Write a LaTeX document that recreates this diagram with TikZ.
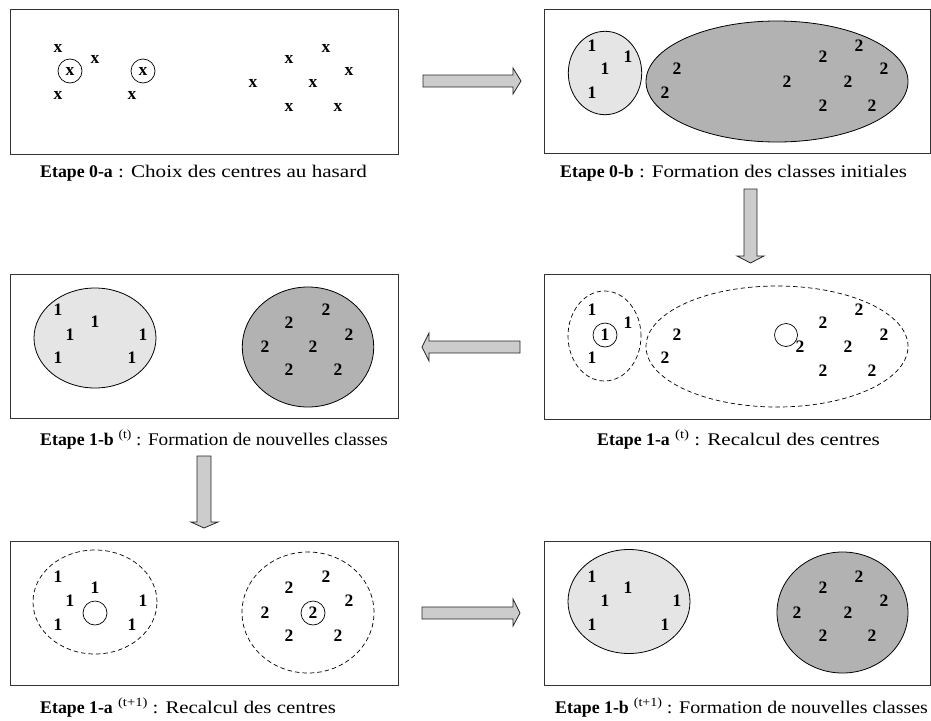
\documentclass[tikz,border=0pt]{standalone}
\usepackage{fontspec}
\setmainfont{Liberation Serif}
\newcommand\mysup[1]{\raisebox{6.5pt}{\fontsize{12.5}{13}\selectfont #1}}
% caption: bold part, width of the rest, rest
\newcommand\capline[3]{{\bfseries #1}\resizebox{#2}{\height}{\ #3}}
\begin{document}
\begin{tikzpicture}[x=1pt,y=-1pt,
  panel/.style={draw=black!80, line width=0.9pt, fill=white, inner sep=0pt},
  mk/.style={font=\fontsize{17.5}{17.5}\selectfont\bfseries, inner sep=0pt},
  captxt/.style={font=\fontsize{17.8}{19}\selectfont, anchor=base west, inner sep=0pt},
  ring/.style={draw, line width=0.7pt},
  light/.style={draw, line width=0.8pt, fill=gray!20},
  dark/.style={draw, line width=0.8pt, fill=gray!60},
  dashell/.style={draw, line width=0.7pt, dash pattern=on 4.5pt off 3pt},
  blockarrow/.style={draw=black!85, line width=0.8pt, fill=gray!40, line join=miter}
]
\useasboundingbox (0,0) rectangle (931,720);

% panels
\node[panel, minimum width=388pt, minimum height=145pt] (P1) at (204,81.5) {};
\node[panel, minimum width=386pt, minimum height=144pt] (P2) at (737,81) {};
\node[panel, minimum width=388pt, minimum height=144pt] (P3) at (204,346) {};
\node[panel, minimum width=386pt, minimum height=145pt] (P4) at (737,346.5) {};
\node[panel, minimum width=388pt, minimum height=144pt] (P5) at (204,613) {};
\node[panel, minimum width=386pt, minimum height=144pt] (P6) at (737,613) {};

% ellipses
\draw[light] (605,73) ellipse [x radius=36.7pt, y radius=41.7pt];
\draw[dark] (777,81.5) ellipse [x radius=131pt, y radius=60.5pt];
\draw[light] (95,338) ellipse [x radius=61pt, y radius=50pt];
\draw[dark] (308,347) ellipse [x radius=65.7pt, y radius=60pt];
\draw[dashell] (604.5,336) ellipse [x radius=36.5pt, y radius=45pt];
\draw[dashell] (777,346.5) ellipse [x radius=131pt, y radius=60.5pt];
\draw[dashell] (95,602) ellipse [x radius=62pt, y radius=52pt];
\draw[dashell] (308,612.5) ellipse [x radius=66pt, y radius=60.5pt];
\draw[light] (629,601.5) ellipse [x radius=61pt, y radius=52pt];
\draw[dark] (842.5,612.5) ellipse [x radius=65.5pt, y radius=60.5pt];

% panel 1 points
\foreach \px/\py [count=\i] in {58/48,95/59,70/71,58/95,143/71,132/95,253/83,289/59,326/48,349/71,313/83,289/107,338/107}
  \node[mk] (a\i) at (\px,\py) {x};
\draw[ring] (a3) circle (12pt);
\draw[ring] (a5) circle (12pt);

% panel 2
\foreach \px/\py/\t [count=\i] in {592/46/1,628/57/1,605/69/1,592/93/1,677/69/2,665/93/2,787/82/2,823/57/2,859/46/2,884/69/2,848/82/2,823/106/2,872/106/2}
  \node[mk] (b\i) at (\px,\py) {\t};

% panel 3
\foreach \px/\py/\t [count=\i] in {58/310/1,95/322/1,70/335/1,143/335/1,58/358/1,132/358/1,326/310/2,289/323/2,349/335/2,265/347/2,313/347/2,289/370/2,338/370/2}
  \node[mk] (c\i) at (\px,\py) {\t};

% panel 4
\foreach \px/\py/\t [count=\i] in {592/310/1,628/323/1,605/335/1,592/358/1,677/335/2,665/358/2,800/347/2,823/323/2,859/310/2,884/335/2,848/347/2,823/371/2,872/371/2}
  \node[mk] (d\i) at (\px,\py) {\t};
\draw[ring] (d3) circle (12pt);
\coordinate (dc) at (786,335);
\draw[ring] (dc) circle (11.5pt);

% panel 5
\foreach \px/\py/\t [count=\i] in {58/577/1,95/588/1,70/601/1,143/601/1,58/625/1,132/625/1,326/577/2,289/588/2,349/601/2,265/613/2,313/613/2,289/636/2,338/636/2}
  \node[mk] (e\i) at (\px,\py) {\t};
\coordinate (ec) at (95,613);
\draw[ring] (ec) circle (12pt);
\draw[ring] (e11) circle (12pt);

% panel 6
\foreach \px/\py/\t [count=\i] in {592/577/1,628/588/1,605/601/1,677/601/1,592/625/1,665/625/1,859/577/2,823/588/2,884/601/2,797/613/2,848/613/2,823/636/2,872/636/2}
  \node[mk] (f\i) at (\px,\py) {\t};

% block arrows
\draw[blockarrow] (423,75) -- (513,75) -- (513,68) -- (521,81) -- (513,94) -- (513,87) -- (423,87) -- cycle;
\draw[blockarrow] (744,189) -- (757,189) -- (757,256) -- (764,256) -- (750.5,263) -- (737,256) -- (744,256) -- cycle;
\draw[blockarrow] (520,341) -- (429,341) -- (429,333) -- (422,347) -- (429,361) -- (429,353) -- (520,353) -- cycle;
\draw[blockarrow] (197,456) -- (211,456) -- (211,522) -- (218,522) -- (204,528) -- (191,522) -- (197,522) -- cycle;
\draw[blockarrow] (422,607) -- (513,607) -- (513,599) -- (520,613) -- (513,626) -- (513,619) -- (422,619) -- cycle;

% captions
\node[captxt] (t1) at (40,177) {\capline{Etape 0-a}{254pt}{: Choix des centres au hasard}};
\node[captxt] (t2) at (560,177) {\capline{Etape 0-b}{273pt}{: Formation des classes initiales}};
\node[captxt] (t3) at (40,445) {\capline{Etape 1-b}{274pt}{\mysup{(t)} : Formation de nouvelles classes}};
\node[captxt] (t4) at (597,445) {\capline{Etape 1-a}{210pt}{\mysup{(t)} : Recalcul des centres}};
\node[captxt] (t5) at (40,713) {\capline{Etape 1-a}{223pt}{\mysup{(t+1)} : Recalcul des centres}};
\node[captxt] (t6) at (555,713) {\capline{Etape 1-b}{299pt}{\mysup{(t+1)} : Formation de nouvelles classes}};
\end{tikzpicture}
\end{document}
